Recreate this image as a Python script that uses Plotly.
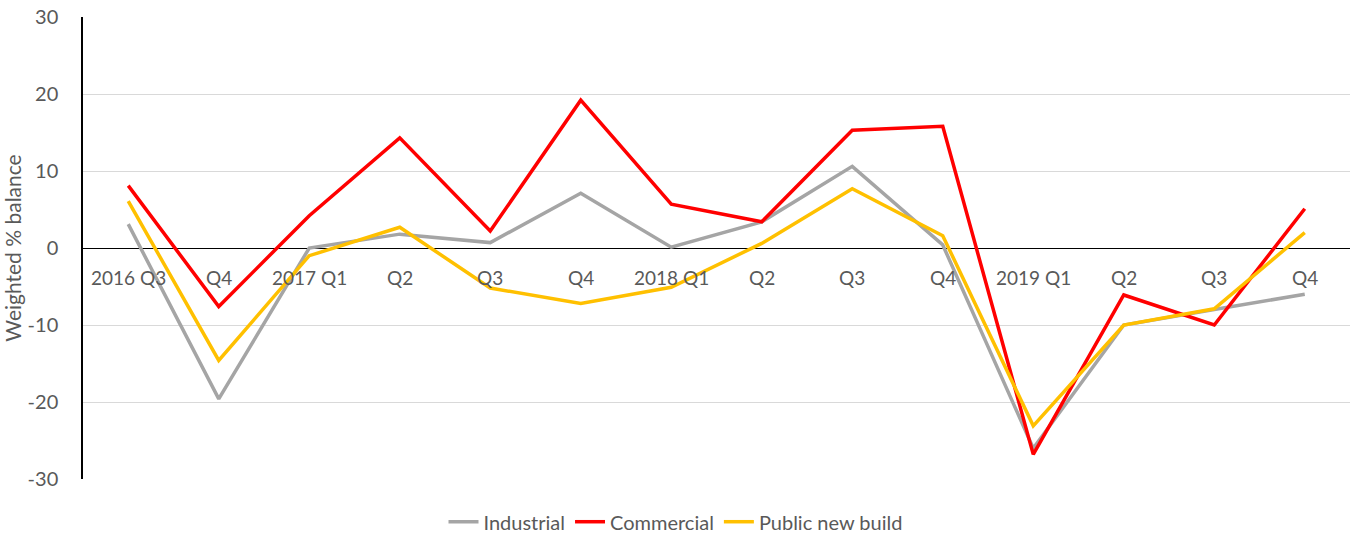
import plotly.graph_objects as go

# Quarterly categories and the labels shown along the zero line
quarters = ["2016 Q3", "2016 Q4", "2017 Q1", "2017 Q2", "2017 Q3", "2017 Q4",
            "2018 Q1", "2018 Q2", "2018 Q3", "2018 Q4", "2019 Q1", "2019 Q2",
            "2019 Q3", "2019 Q4"]
quarter_labels = ["2016 Q3", "Q4", "2017 Q1", "Q2", "Q3", "Q4", "2018 Q1",
                  "Q2", "Q3", "Q4", "2019 Q1", "Q2", "Q3", "Q4"]

# Weighted % balance by sector
industrial = [3.1, -19.6, 0.0, 1.8, 0.7, 7.1, 0.1, 3.4, 10.6, 0.4, -26.0, -10.0, -8.0, -6.0]
commercial = [8.1, -7.6, 4.2, 14.3, 2.2, 19.2, 5.7, 3.4, 15.3, 15.8, -26.8, -6.1, -10.0, 5.1]
public_new_build = [6.1, -14.6, -1.0, 2.7, -5.2, -7.2, -5.1, 0.6, 7.7, 1.6, -23.1, -10.0, -7.9, 2.0]

y_ticks = [-30, -20, -10, 0, 10, 20, 30]
y_tick_labels = ["-30", "-20", "-10", "0", "10", "20", "30"]

FONT = "Lato, 'Open Sans', sans-serif"
TEXT_COLOR = "#595959"

fig = go.Figure()
series = [
    ("Industrial", industrial, "#A5A5A5"),
    ("Commercial", commercial, "#FF0000"),
    ("Public new build", public_new_build, "#FFC000"),
]
for name, values, color in series:
    fig.add_trace(go.Scatter(
        x=quarters, y=values, name=name, mode="lines",
        line=dict(color=color, width=3.5),
    ))

# Category labels sit just under the zero line
for q, lab in zip(quarters, quarter_labels):
    fig.add_annotation(
        x=q, y=0, xref="x", yref="y", text=lab, showarrow=False,
        yanchor="middle", yshift=-29,
        font=dict(family=FONT, size=19, color=TEXT_COLOR),
    )

fig.update_layout(
    width=1351, height=534,
    margin=dict(l=83, r=1, t=17, b=55),
    paper_bgcolor="white", plot_bgcolor="white",
    font=dict(family=FONT, size=19, color=TEXT_COLOR),
    showlegend=True,
    legend=dict(
        orientation="h", xref="container", x=0.5, xanchor="center",
        yref="container", y=0.023, yanchor="middle",
        font=dict(family=FONT, size=20, color=TEXT_COLOR),
        itemwidth=30, tracegroupgap=0,
    ),
    xaxis=dict(
        type="category", categoryorder="array", categoryarray=quarters,
        range=[-0.5, len(quarters) - 0.5],
        showticklabels=False, showgrid=False, zeroline=False,
        showline=False, ticks="",
    ),
    yaxis=dict(
        range=[-30, 30], tickvals=y_ticks, ticktext=y_tick_labels,
        showgrid=True, gridcolor="#D9D9D9", gridwidth=1,
        zeroline=True, zerolinecolor="#000000", zerolinewidth=1,
        showline=True, linecolor="#000000", linewidth=1.5,
        ticks="", ticklabelstandoff=19,
        tickfont=dict(family=FONT, size=20, color=TEXT_COLOR),
        title=dict(text="Weighted % balance", standoff=8,
                   font=dict(family=FONT, size=21, color=TEXT_COLOR)),
    ),
)

fig.write_html("out.html")
